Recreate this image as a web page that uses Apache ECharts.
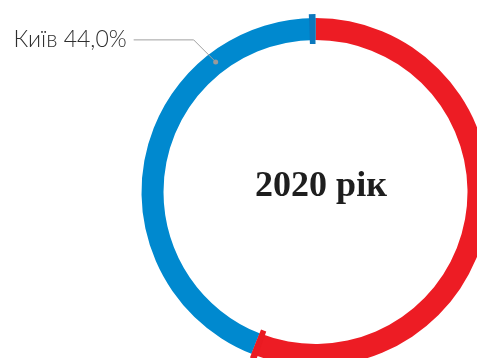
<!DOCTYPE html>
<html>
<head>
<meta charset="utf-8">
<script src="https://cdn.jsdelivr.net/npm/echarts@6/dist/echarts.min.js"></script>
<style>
  html, body { margin: 0; padding: 0; background: #fff; }
  #main { width: 477px; height: 358px; }
</style>
</head>
<body>
<div id="main"></div>
<script>
// частки регіонів, %
var names = ["Київ", "Інші регіони"];
var values = [44.0, 56.0];
var colors = ["#0089cf", "#ed1c24"];
var tickColors = ["#0a78bd", "#ea1a22"];
var centerTitle = "2020 рік";

var myChart = echarts.init(document.getElementById("main"));

// кольорові сегменти (за годинниковою стрілкою від верху: червоний, потім синій)
var ringData = [
  { name: names[1], value: values[1], itemStyle: { color: colors[1] } },
  { name: names[0], value: values[0], itemStyle: { color: colors[0] } }
];

// позначки на кінці кожного сегмента
var tickW = 0.6;
var tickData = [];
[1, 0].forEach(function (i) {
  tickData.push({ value: values[i] - tickW, itemStyle: { color: "transparent" } });
  tickData.push({ value: tickW, itemStyle: { color: tickColors[i] } });
});

// допоміжна серія лише для підпису Києва
var labelData = [
  {
    name: names[0],
    value: values[0],
    label: {
      show: true,
      formatter: function (p) {
        return p.name + " " + p.value.toFixed(1).replace(".", ",") + "%";
      }
    },
    labelLine: { show: true }
  },
  { name: names[1], value: values[1], label: { show: false }, labelLine: { show: false } }
];

var centerText = {
  type: "text",
  x: 321,
  y: 187,
  style: {
    text: centerTitle,
    fill: "#1e1e1e",
    font: "bold 36px 'Liberation Serif'",
    textAlign: "center",
    textVerticalAlign: "middle"
  }
};

var option = {
  animation: false,
  series: [
    {
      type: "pie",
      center: [315.5, 192],
      radius: [152, 174],
      startAngle: 90,
      clockwise: true,
      silent: true,
      z: 1,
      label: { show: false },
      labelLine: { show: false },
      data: ringData
    },
    {
      type: "pie",
      center: [315.5, 192],
      radius: [148, 178],
      startAngle: 90,
      clockwise: true,
      silent: true,
      z: 2,
      label: { show: false },
      labelLine: { show: false },
      data: tickData
    },
    {
      type: "pie",
      center: [315.5, 192],
      radius: [0, 164],
      startAngle: 206.7,
      clockwise: true,
      silent: true,
      z: 10,
      avoidLabelOverlap: false,
      itemStyle: { color: "transparent" },
      label: {
        position: "outside",
        color: "#2e2e2e",
        fontFamily: "Lato",
        fontWeight: 300,
        fontSize: 23
      },
      labelLine: {
        lineStyle: { color: "#a0a0a0", width: 1 }
      },
      data: labelData
    }
  ],
  graphic: [centerText]
};
myChart.setOption(option);

// лінія підпису: від крапки на кільці під 45° вгору, далі горизонтально
var lay = myChart.getModel().getSeriesByIndex(2).getData().getItemLayout(0);
var mid = (lay.startAngle + lay.endAngle) / 2;
var p0 = [lay.cx + lay.r * Math.cos(mid), lay.cy + lay.r * Math.sin(mid)];
var p1 = [p0[0] - 22, p0[1] - 22];
var p2 = [p1[0] - 60, p1[1]];

myChart.setOption({
  series: [
    {},
    {},
    {
      labelLayout: function (params) {
        if (params.dataIndex !== 0) return {};
        return {
          x: p2[0] - 7,
          y: p2[1],
          align: "right",
          verticalAlign: "middle",
          labelLinePoints: [p0, p1, p2]
        };
      }
    }
  ],
  graphic: [
    centerText,
    {
      type: "circle",
      shape: { cx: p0[0], cy: p0[1], r: 2.5 },
      style: { fill: "#9a9a9a" },
      z: 100
    }
  ]
});
</script>
</body>
</html>
